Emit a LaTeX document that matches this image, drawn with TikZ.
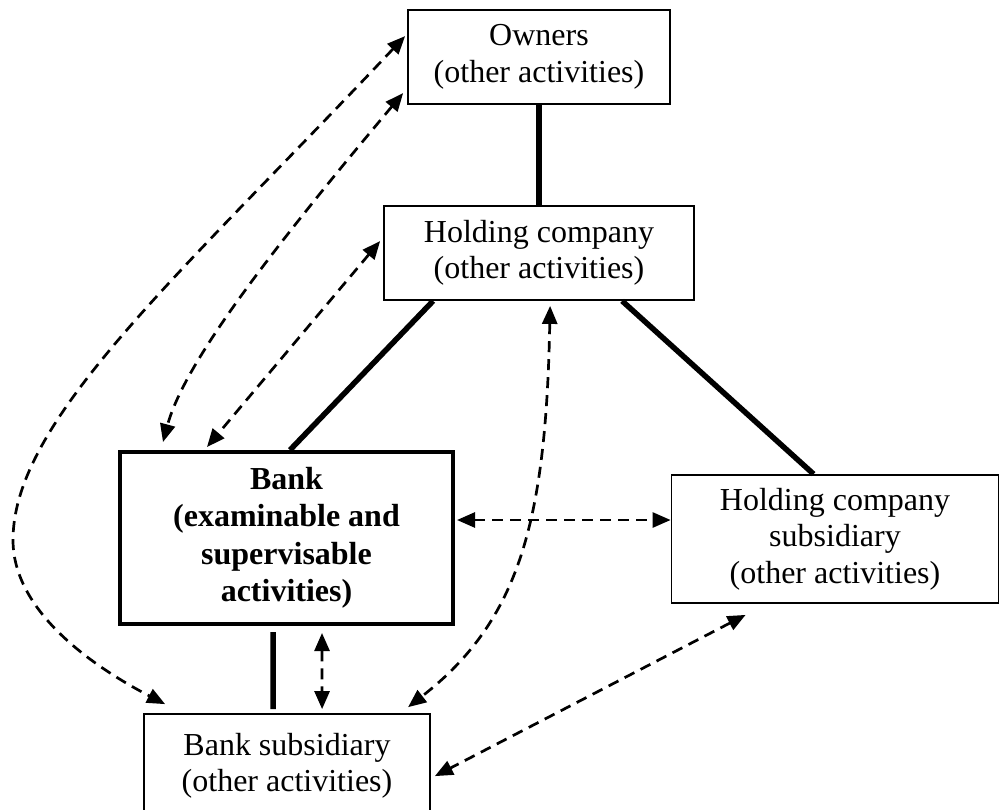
\documentclass[tikz,border=0pt]{standalone}
\usepackage{fontspec}
\setmainfont{Liberation Serif}
\usetikzlibrary{arrows.meta,calc}
\begin{document}
\begin{tikzpicture}[x=1pt,y=-1pt,
  box/.style={draw, line width=1.8pt, align=center, inner sep=0pt,
    font=\fontsize{32}{36.5}\selectfont},
  bankbox/.style={draw, line width=4pt, align=center, inner sep=0pt,
    font=\fontsize{32}{37.5}\selectfont\bfseries},
  link/.style={line width=5.5pt},
  dasharrow/.style={dashed, dash pattern=on 11pt off 7pt, line width=2.7pt,
    {Triangle[length=18pt,width=15pt]}-{Triangle[length=18pt,width=15pt]}}
]
\clip (0,0) rectangle (1000,809);

\node[box, minimum width=262pt, minimum height=94pt] (owners) at (539,57)
  {Owners\\(other activities)};
\node[box, minimum width=310pt, minimum height=94pt] (holding) at (539,253)
  {Holding company\\(other activities)};
\node[bankbox, minimum width=333pt, minimum height=172pt] (bank) at (286.5,538)
  {Bank\\(examinable and\\supervisable\\activities)};
\node[box, minimum width=327pt, minimum height=128pt] (hcsub) at (835,539)
  {Holding company\\subsidiary\\(other activities)};
\node[box, minimum width=286pt, minimum height=104pt] (banksub) at (287,766)
  {Bank subsidiary\\(other activities)};

% solid ownership links
\draw[link] (owners.south) -- (holding.north);
\draw[link] ($(holding.south west)+(50,0)$) -- ($(bank.north west)+(172,0)$);
\draw[link] ($(holding.south west)+(239,0)$) -- ($(hcsub.north west)+(143,0)$);
\draw[link] ($(bank.south west)+(155,6)$) -- ($(banksub.north west)+(130,-4)$);

% dashed relations
\coordinate (hleft) at ($(bank.east)+(2,-18)$);
\draw[dasharrow] ($(bank.south west)+(204,7)$) -- ($(banksub.north west)+(179,-4)$);
\draw[dasharrow] (hleft) -- (hleft -| hcsub.west);
\draw[dasharrow] ($(owners.north west)+(-2,27)$)
  .. controls (180,275) and (13,420) .. (13,540)
  .. controls (13,610) and (90,665) .. ($(banksub.north west)+(22,-9)$);
\draw[dasharrow] ($(owners.north west)+(-4,84)$)
  .. controls (280,240) and (185,360) .. ($(bank.north west)+(45,-8)$);
\draw[dasharrow] ($(holding.north west)+(-3,36)$) -- ($(bank.north west)+(89,-3)$);
\draw[dasharrow] ($(holding.south west)+(167,5)$)
  .. controls (546,520) and (520,620) .. ($(banksub.north west)+(265,-6)$);
\draw[dasharrow] ($(hcsub.south west)+(75,11)$) -- ($(banksub.north east)+(4,63)$);
\end{tikzpicture}
\end{document}
